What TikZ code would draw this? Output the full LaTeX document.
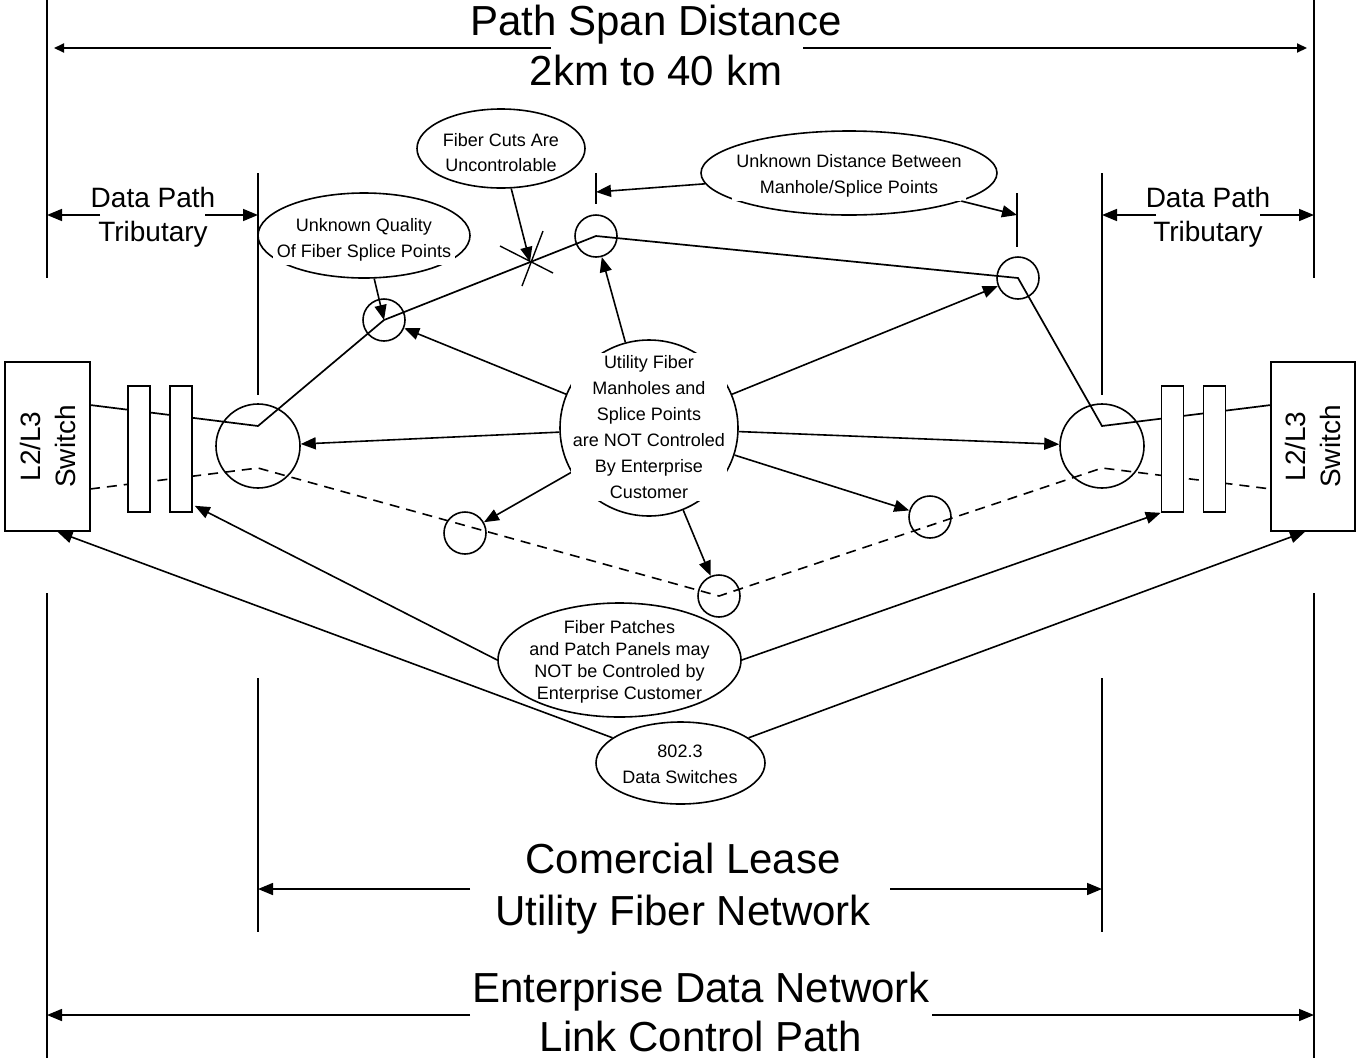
\documentclass[tikz,border=0pt]{standalone}
\usepackage{fontspec}
\setmainfont{Liberation Sans}
\usetikzlibrary{arrows.meta,calc,shapes.geometric}
\begin{document}
\begin{tikzpicture}[x=1pt,y=-1pt,
  every node/.style={inner sep=0pt},
  ln/.style={line width=1.7pt},
  dimln/.style={line width=1.4pt},
  arr/.style={line width=1.6pt,-{Triangle[length=15pt,width=12pt]}},
  tarr/.style={line width=2pt,-{Triangle[length=10pt,width=9pt]}},
  ell/.style={draw,ellipse,line width=1.6pt,inner sep=0pt},
  spl/.style={draw,circle,line width=1.6pt,minimum size=42pt,inner sep=0pt},
  panel/.style={draw,fill=white,line width=1.6pt,minimum width=22pt,minimum height=126pt},
  swbox/.style={draw,fill=white,line width=1.6pt,minimum width=85pt,minimum height=169pt},
  bigtxt/.style={font=\fontsize{42}{50}\selectfont,align=center},
  midtxt/.style={font=\fontsize{28}{34}\selectfont,align=center},
  smltxt/.style={font=\fontsize{18}{26}\selectfont,align=center},
  fdash/.style={line width=1.6pt,dash pattern=on 10pt off 7pt}
]
\useasboundingbox (0,0) rectangle (1357,1058);

% splice circles
\node[spl] (s1) at (384,320) {};
\node[spl] (s2) at (596,236) {};
\node[spl] (s3) at (1018,278) {};
\node[spl] (d1) at (465,533) {};
\node[spl] (d2) at (719,596) {};
\node[spl] (d3) at (930,517) {};
\node[spl,minimum size=84pt] (cL) at (258,446) {};
\node[spl,minimum size=84pt] (cR) at (1102,446) {};

% fiber path coordinates
\coordinate (fL0) at (90,405);
\coordinate (fL1) at (258,426);
\coordinate (fR1) at (1102,426);
\coordinate (fR0) at (1271,405);
\coordinate (dL0) at (90,489);
\coordinate (dL1) at (258,468);
\coordinate (dR1) at (1102,468);
\coordinate (dR0) at (1271,489);

\draw[ln] (fL0) -- (fL1) -- (s1.center) -- (s2.center) -- (s3.center) -- (fR1) -- (fR0);
\draw[fdash] (dL0) -- (dL1) -- (d2.center) -- (dR1) -- (dR0);

% panels and switches
\node[panel] (pL1) at (139,449) {};
\node[panel] (pL2) at (181,449) {};
\node[panel] (pR1) at (1172.5,449) {};
\node[panel] (pR2) at (1214.5,449) {};
\node[swbox] (swL) at (47.5,446.5) {};
\node[swbox,minimum width=84pt] (swR) at (1313,446.5) {};
\node[midtxt,rotate=90,font=\fontsize{28}{35}\selectfont] (swLt) at (swL) {L2/L3\\Switch};
\node[midtxt,rotate=90,font=\fontsize{28}{35}\selectfont] (swRt) at (swR) {L2/L3\\Switch};

% dimension verticals
\draw[dimln] (47,0) -- (47,278);
\draw[dimln] (47,593) -- (47,1058);
\draw[dimln] (1314,0) -- (1314,278);
\draw[dimln] (1314,593) -- (1314,1058);
\draw[dimln] (258,173) -- (258,395);
\draw[dimln] (258,678) -- (258,932);
\draw[dimln] (1102,173) -- (1102,395);
\draw[dimln] (1102,678) -- (1102,932);

% top span
\node[bigtxt] (ttl) at (656,45) {Path Span Distance\\2km to 40 km};
\draw[tarr] (551,48) -- (54,48);
\draw[tarr] (803,48) -- (1307,48);

% tributaries
\node[midtxt] (dpL) at (153,217) {Data Path\\Tributary};
\draw[arr] (100,215) -- (47,215);
\draw[arr] (205,215) -- (258,215);
\node[midtxt] (dpR) at (1208,217) {Data Path\\Tributary};
\draw[arr] (1156,215) -- (1102,215);
\draw[arr] (1260,215) -- (1314,215);

% bottom spans
\node[bigtxt,font=\fontsize{42}{52}\selectfont] (cl) at (683,889) {Comercial Lease\\Utility Fiber Network};
\draw[arr] (470,889) -- (258,889);
\draw[arr] (890,889) -- (1102,889);
\node[bigtxt,font=\fontsize{42}{49}\selectfont] (ed) at (701,1012) {Enterprise Data Network\\Link Control Path};
\draw[arr] (470,1015) -- (47,1015);
\draw[arr] (932,1015) -- (1314,1015);

% fiber cut mark
\coordinate (cut) at (530,262);
\draw[line width=1.4pt] ($(cut)+(-30,-16)$) -- ($(cut)+(23,11)$);
\draw[line width=1.4pt] ($(cut)+(13,-31)$) -- ($(cut)+(-8,24)$);

% callout ellipses
\node[ell,minimum width=168pt,minimum height=79pt] (fc) at (501,148.5) {};
\node[smltxt,font=\fontsize{18}{25}\selectfont] (fcT) at (501,153) {Fiber Cuts Are\\Uncontrolable};
\draw[arr] (fc) -- (cut);

\node[ell,minimum width=212pt,minimum height=85pt] (uq) at (364,235.5) {};
\node[smltxt,fill=white,inner sep=4pt] (uqT) at (364,240) {Unknown Quality\\Of Fiber Splice Points};
\draw[arr] (uq) -- (s1.center);

\coordinate (tk1) at (596,192);
\coordinate (tk2) at (1017,215);
\draw[dimln] (596,173) -- (596,204);
\draw[dimln] (1017,193) -- (1017,247);
\node[ell,minimum width=296pt,minimum height=84pt] (ud) at (849,173) {};
\node[smltxt,fill=white,inner sep=4pt] (udT) at (849,176) {Unknown Distance Between\\Manhole/Splice Points};
\draw[arr] (ud) -- (tk1);
\draw[arr] (ud) -- (tk2);

\node[ell,minimum width=178pt,minimum height=176pt] (ut) at (649,428) {};
\draw[arr] (ut) -- (s2);
\draw[arr] (ut) -- (s1);
\draw[arr] (ut) -- (cL);
\draw[arr] (ut) -- (d1);
\draw[arr] (ut) -- (d2);
\draw[arr] (ut) -- (d3);
\draw[arr] (ut) -- (cR);
\draw[arr] (ut) -- (s3);
\node[smltxt,fill=white,inner sep=2pt] (utT) at (649,427) {Utility Fiber\\Manholes and\\Splice Points\\are NOT Controled\\By Enterprise\\Customer};

\node[ell,minimum width=243pt,minimum height=114pt] (fp) at (619.5,660) {};
\node[font=\fontsize{18}{22}\selectfont,align=center] (fpT) at (619.5,662) {Fiber Patches\\and Patch Panels may\\NOT be Controled by\\Enterprise Customer};
\draw[arr] (fp.west) -- ($(pL2.south east)+(2,-7)$);
\draw[arr] (fp.east) -- (pR1.south west);

\node[ell,minimum width=169pt,minimum height=82pt] (ds) at (680.5,763) {};
\node[smltxt] (dsT) at (680,764) {802.3\\Data Switches};
\draw[arr] (ds) -- ($(swL.south)+(10,0)$);
\draw[arr] (ds) -- ($(swR.south)+(-8,0)$);
\end{tikzpicture}
\end{document}
